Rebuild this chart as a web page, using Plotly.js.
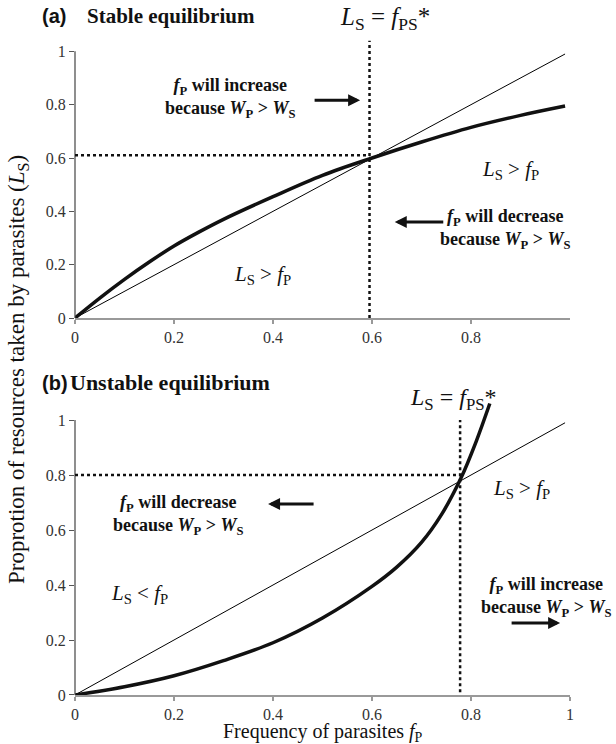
<!DOCTYPE html>
<html>
<head>
<meta charset="utf-8">
<script src="https://cdn.plot.ly/plotly-3.0.1.min.js"></script>
<style>html,body{margin:0;padding:0;background:#fff;}#chart{width:616px;height:744px;}</style>
</head>
<body>
<div id="chart"></div>
<script>
// ---- data ----
const stableF = [0, 0.05, 0.10, 0.15, 0.20, 0.25, 0.30, 0.40, 0.50, 0.60, 0.70, 0.80, 0.90, 0.99];
const stableL = [0, 0.075, 0.145, 0.21, 0.27, 0.322, 0.37, 0.455, 0.535, 0.60, 0.66, 0.715, 0.76, 0.795];
const unstableF = [0, 0.10, 0.20, 0.30, 0.40, 0.50, 0.60, 0.65, 0.70, 0.74, 0.78, 0.81, 0.838];
const unstableL = [0, 0.03, 0.07, 0.125, 0.19, 0.28, 0.395, 0.465, 0.555, 0.655, 0.79, 0.92, 1.06];
const diagF = [0, 0.99];
const diagL = [0, 0.99];
const stableEqF = 0.595, stableEqL = 0.61;
const unstableEqF = 0.778, unstableEqL = 0.80;
const xTicksTop = [0, 0.2, 0.4, 0.6, 0.8];
const xTicksBottom = [0, 0.2, 0.4, 0.6, 0.8, 1];
const yTicks = [0, 0.2, 0.4, 0.6, 0.8, 1];

const serif = "'Liberation Serif', 'Times New Roman', serif";
const sans = "'Liberation Sans', Arial, sans-serif";
const LS = '<i>L</i><sub>S</sub>';
const fP = '<i>f</i><sub>P</sub>';
const fPS = '<i>f</i><sub>PS</sub>';
const bfP = '<b><i>f</i><sub>P</sub></b>';
const because = '<b>because <i>W</i><sub>P</sub> > <i>W</i><sub>S</sub></b>';

const traces = [
  {x: diagF, y: diagL, xaxis: 'x', yaxis: 'y', mode: 'lines', line: {color: '#000', width: 1}, hoverinfo: 'skip'},
  {x: stableF, y: stableL, xaxis: 'x', yaxis: 'y', mode: 'lines', line: {color: '#111', width: 3.5, shape: 'spline'}, hoverinfo: 'skip'},
  {x: diagF, y: diagL, xaxis: 'x2', yaxis: 'y2', mode: 'lines', line: {color: '#000', width: 1}, hoverinfo: 'skip'},
  {x: unstableF, y: unstableL, xaxis: 'x2', yaxis: 'y2', mode: 'lines', line: {color: '#111', width: 3.5, shape: 'spline'}, hoverinfo: 'skip'}
];

const xCommon = {
  range: [0, 1], showgrid: false, zeroline: false, showline: true, linecolor: '#999', linewidth: 2,
  ticks: 'outside', ticklen: 4, tickcolor: '#999', tickwidth: 1.5,
  tickfont: {family: serif, size: 16, color: '#333'}, fixedrange: true
};
const yCommon = {
  showgrid: false, zeroline: false, showline: false,
  ticks: 'outside', ticklen: 5, tickcolor: '#555', tickwidth: 1,
  tickvals: yTicks, ticktext: yTicks.map(String),
  tickfont: {family: serif, size: 16, color: '#333'}, fixedrange: true
};

const dot = {color: '#111', width: 2.5, dash: 'dot'};
const shapes = [
  {type: 'line', xref: 'paper', yref: 'y', x0: 0, x1: 0, y0: 0, y1: 1, line: {color: '#444', width: 1.2}},
  {type: 'line', xref: 'paper', yref: 'y2', x0: 0, x1: 0, y0: 0, y1: 1, line: {color: '#444', width: 1.2}},
  {type: 'line', xref: 'x', yref: 'y', x0: 0, x1: stableEqF, y0: stableEqL, y1: stableEqL, line: dot},
  {type: 'line', xref: 'x', yref: 'y', x0: stableEqF, x1: stableEqF, y0: 0, y1: 1.04, line: dot},
  {type: 'line', xref: 'x2', yref: 'y2', x0: 0, x1: unstableEqF, y0: unstableEqL, y1: unstableEqL, line: dot},
  {type: 'line', xref: 'x2', yref: 'y2', x0: unstableEqF, x1: unstableEqF, y0: 0.01, y1: 1.0, line: dot}
];

function txt(xref, yref, x, y, text, size, opts) {
  return Object.assign({xref: xref, yref: yref, x: x, y: y, text: text, showarrow: false,
    xanchor: 'center', yanchor: 'middle',
    font: {family: serif, size: size, color: '#111'}, align: 'center'}, opts || {});
}
function arrow(xref, yref, x0, x1, y) {
  return {xref: xref, yref: yref, axref: xref, ayref: yref, x: x1, y: y, ax: x0, ay: y, text: '',
    showarrow: true, arrowhead: 2, arrowsize: 0.8, arrowwidth: 3, arrowcolor: '#111'};
}

const annotations = [
  // panel (a) headings
  txt('paper', 'paper', -0.071, 1.0335, '<b>(a)</b>', 20, {font: {family: sans, size: 20, color: '#111'}, xanchor: 'left'}),
  txt('paper', 'paper', 0.02, 1.0335, '<b>Stable equilibrium</b>', 21, {xanchor: 'left'}),
  txt('paper', 'paper', 0.626, 1.0304, LS + ' = ' + fPS + '*', 25),
  txt('x', 'y', 0.315, 0.825, bfP + '<b> will increase</b><br>' + because, 18),
  arrow('x', 'y', 0.481, 0.576, 0.817),
  txt('x', 'y', 0.879, 0.555, LS + ' > ' + fP, 21),
  txt('x', 'y', 0.869, 0.334, bfP + '<b> will decrease</b><br>' + because, 18),
  arrow('x', 'y', 0.747, 0.646, 0.36),
  txt('x', 'y', 0.378, 0.161, LS + ' > ' + fP, 21),
  // panel (b)
  txt('paper', 'paper', -0.071, 0.4749, '<b>(b)</b>', 20, {font: {family: sans, size: 20, color: '#111'}, xanchor: 'left'}),
  txt('paper', 'paper', -0.014, 0.4749, '<b>Unstable equilibrium</b>', 22, {xanchor: 'left'}),
  txt('x2', 'y2', 0.764, 1.076, LS + ' = ' + fPS + '*', 24),
  txt('x2', 'y2', 0.903, 0.749, LS + ' > ' + fP, 21),
  txt('x2', 'y2', 0.21, 0.655, bfP + '<b> will decrease</b><br>' + because, 18),
  arrow('x2', 'y2', 0.485, 0.39, 0.695),
  txt('x2', 'y2', 0.131, 0.367, LS + ' < ' + fP, 21),
  txt('x2', 'y2', 0.953, 0.356, bfP + '<b> will increase</b><br>' + because, 18),
  arrow('x2', 'y2', 0.879, 0.98, 0.262),
  // shared axis titles
  txt('paper', 'paper', -0.115, 0.4947, 'Proprotion of resources taken by parasites (' + LS + ')', 23, {textangle: -90}),
  txt('paper', 'paper', 0.50, -0.0578, 'Frequency of parasites ' + fP, 20)
];

const layout = {
  width: 616, height: 744,
  margin: {l: 75, r: 46, t: 38, b: 49},
  paper_bgcolor: '#fff', plot_bgcolor: '#fff',
  showlegend: false,
  xaxis: Object.assign({}, xCommon, {anchor: 'y', domain: [0, 1], tickvals: xTicksTop, ticktext: xTicksTop.map(String)}),
  yaxis: Object.assign({}, yCommon, {anchor: 'x', domain: [0.5738, 1], range: [0, 1.05]}),
  xaxis2: Object.assign({}, xCommon, {anchor: 'y2', domain: [0, 1], tickvals: xTicksBottom, ticktext: xTicksBottom.map(String)}),
  yaxis2: Object.assign({}, yCommon, {anchor: 'x2', domain: [0, 0.452], range: [0, 1.08]}),
  shapes: shapes,
  annotations: annotations
};

Plotly.newPlot('chart', traces, layout, {displayModeBar: false, staticPlot: true});
</script>
</body>
</html>
